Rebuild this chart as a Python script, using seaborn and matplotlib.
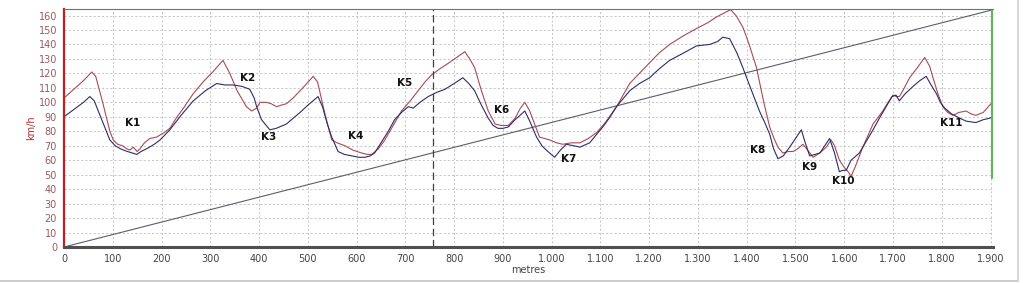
import matplotlib
matplotlib.use("Agg")
import matplotlib.pyplot as plt
import matplotlib.ticker as mticker
from matplotlib.lines import Line2D
import numpy as np
import pandas as pd
import seaborn as sns

# ---- data ----
red_x = [0, 20, 40, 57, 65, 80, 94, 101, 110, 120, 128, 135, 142, 150, 156, 165, 176, 190, 205, 217,
         230, 245, 265, 285, 305, 326, 340, 355, 374, 385, 395, 402, 415, 425, 436, 445, 456, 470, 484,
         498, 511, 520, 535, 549, 560, 576, 592, 610, 622, 631, 645, 658, 675, 692, 710, 726, 740, 754,
         770, 788, 805, 822, 832, 842, 856, 870, 884, 897, 911, 925, 936, 945, 955, 965, 975, 996, 1010,
         1023, 1040, 1058, 1075, 1092, 1110, 1133, 1160, 1194, 1220, 1242, 1270, 1297, 1320, 1338, 1355,
         1367, 1378, 1392, 1405, 1420, 1435, 1447, 1456, 1464, 1474, 1485, 1495, 1505, 1515, 1525, 1536,
         1550, 1563, 1573, 1580, 1590, 1600, 1608, 1614, 1622, 1630, 1638, 1659, 1679, 1690, 1700, 1707,
         1713, 1720, 1734, 1750, 1765, 1775, 1782, 1792, 1802, 1812, 1823, 1835, 1850, 1860, 1870, 1885,
         1898, 1904]
red_y = [103, 109, 115, 121, 118, 99, 80, 74, 71, 70, 68, 67, 69, 66, 68, 72, 75, 76, 79, 82,
         89, 96, 106, 114, 121, 129, 120, 108, 97, 94, 96, 100, 100, 99, 97, 98, 99, 103, 108,
         113, 118, 114, 92, 74, 72, 70, 67, 65, 64, 64, 68, 74, 84, 94, 101, 108, 114, 119,
         123, 127, 131, 135, 130, 124, 108, 94, 85, 84, 84, 89, 96, 100, 94, 85, 76, 74, 72,
         71, 72, 72, 75, 79, 86, 97, 113, 125, 134, 140, 146, 151, 155, 159, 162,
         164, 160, 152, 140, 124, 100, 83, 75, 69, 65, 66, 66, 68, 71, 67, 62,
         65, 69, 74, 70, 60, 55, 52, 49, 55, 62, 69, 85, 94, 100, 105, 104,
         104, 108, 117, 124, 131, 125, 117, 106, 97, 93, 91, 93, 94, 92, 91, 93,
         98, 100]

blue_x = [0, 20, 40, 53, 62, 75, 94, 105, 115, 122, 130, 140, 149, 158, 170, 185, 197, 217, 240, 265,
          290, 313, 330, 347, 365, 381, 390, 395, 405, 422, 435, 456, 470, 484, 500, 521, 530, 540, 549,
          562, 575, 590, 605, 617, 628, 637, 650, 665, 678, 692, 706, 716, 730, 747, 765, 781, 800, 818,
          830, 842, 856, 870, 880, 890, 900, 911, 925, 935, 945, 955, 969, 980, 989, 1006, 1018, 1030,
          1045, 1058, 1078, 1090, 1105, 1120, 1133, 1160, 1180, 1201, 1220, 1242, 1270, 1297, 1324, 1340,
          1351, 1365, 1380, 1392, 1410, 1426, 1437, 1447, 1455, 1464, 1475, 1488, 1500, 1512, 1520, 1529,
          1540, 1550, 1560, 1570, 1580, 1590, 1597, 1604, 1614, 1631, 1645, 1659, 1672, 1686, 1698, 1706,
          1713, 1725, 1741, 1755, 1768, 1778, 1789, 1797, 1806, 1820, 1837, 1850, 1870, 1885, 1898, 1904]
blue_y = [90, 95, 100, 104, 101, 90, 74, 70, 68, 67, 66, 65, 64, 66, 68, 71, 74, 81, 91, 101,
          108, 113, 112, 112, 111, 109, 103, 97, 88, 81, 82, 85, 89, 93, 98, 104, 97, 85, 76,
          66, 64, 63, 62, 62, 63, 65, 72, 80, 88, 93, 97, 96, 100, 104, 107, 109, 113, 117,
          113, 108, 98, 89, 84, 82, 82, 83, 88, 91, 94, 87, 76, 70, 67, 62, 67, 71,
          70, 69, 72, 77, 83, 90, 97, 108, 113, 117, 123, 129, 134, 139, 140, 142,
          145, 144, 134, 124, 108, 94, 86, 78, 68, 61, 63, 69, 75, 81, 72, 63,
          64, 65, 70, 75, 65, 52, 53, 53, 60, 65, 73, 81, 89, 97, 104, 105,
          101, 106, 111, 115, 118, 112, 106, 100, 96, 92, 89, 87, 86, 88, 89, 90]

diag_x = [0, 1905]
diag_y = [0, 164]
marker_x = 756
green_x = 1903
green_y = [48, 164]

label_text = ["K1", "K2", "K3", "K4", "K5", "K6", "K7", "K8", "K9", "K10", "K11"]
label_x = [141, 377, 420, 598, 699, 898, 1035, 1422, 1529, 1597, 1820]
label_y = [86, 116.5, 76, 77, 113.5, 94.5, 61, 67, 55.5, 45.5, 86]

x_ticks = list(range(0, 2000, 100))
y_ticks = list(range(0, 170, 10))

# ---- plot ----
sns.set_style("white")
plt.rcParams['font.family'] = ['DejaVu Sans']

fig = plt.figure(figsize=(10.23, 2.83), dpi=100)
fig.patch.set_facecolor("white")
ax = fig.add_axes([64 / 1023, 36 / 283, 929 / 1023, 238 / 283])

df_red = pd.DataFrame({"x": red_x, "y": red_y})
df_blue = pd.DataFrame({"x": blue_x, "y": blue_y})

ax.grid(True, color="#bdbdbd", linestyle=(0, (2.5, 2.5)), linewidth=0.6)
ax.set_axisbelow(True)

sns.lineplot(data=pd.DataFrame({"x": diag_x, "y": diag_y}), x="x", y="y", ax=ax,
             color="#5a6068", linewidth=0.8, estimator=None, sort=False)
sns.lineplot(data=df_red, x="x", y="y", ax=ax, color="#a84a56", linewidth=0.8,
             estimator=None, sort=False)
sns.lineplot(data=df_blue, x="x", y="y", ax=ax, color="#2e2c6a", linewidth=0.8,
             estimator=None, sort=False)

ax.axvline(marker_x, color="#404040", linestyle=(0, (6, 3)), linewidth=0.9)
ax.plot([green_x, green_x], green_y, color="#5cb85c", linewidth=1.6)

for t, lx, ly in zip(label_text, label_x, label_y):
    ax.text(lx, ly, t, ha="center", va="center", fontsize=7.5, fontweight="bold", color="#111111")

ax.set_xlim(0, 1905)
ax.set_ylim(0, 164.5)
ax.set_xticks(x_ticks)
ax.set_yticks(y_ticks)
ax.xaxis.set_minor_locator(mticker.MultipleLocator(50))
ax.xaxis.set_major_formatter(mticker.FuncFormatter(lambda v, p: f"{int(v):,}".replace(",", ".")))

ax.tick_params(axis="x", which="major", labelsize=7, colors="#444444", length=3, width=0.8,
               direction="out", pad=2)
ax.tick_params(axis="x", which="minor", length=2, width=0.6, color="#444444", direction="out")
ax.tick_params(axis="y", labelsize=7, labelcolor="#9a5a5a", color="#b03030", length=3, width=0.8,
               direction="out", pad=2)

ax.spines["top"].set_color("#707070")
ax.spines["top"].set_linewidth(0.8)
ax.spines["right"].set_visible(False)
ax.spines["bottom"].set_color("#505050")
ax.spines["bottom"].set_linewidth(2.2)
ax.spines["left"].set_color("#c02020")
ax.spines["left"].set_linewidth(1.6)

ax.set_xlabel("metres", fontsize=7, color="#444444", labelpad=1)
ax.set_ylabel("km/h", fontsize=7, color="#b03030", labelpad=2)

# frame lines of the picture
fig.add_artist(Line2D([0, 1018 / 1023], [2 / 283, 2 / 283], color="#c4c4c4", linewidth=1.2))
fig.add_artist(Line2D([1018 / 1023, 1018 / 1023], [2 / 283, 1], color="#d0d0d0", linewidth=1.2))

fig.savefig("out.png", dpi=100, facecolor="white")
